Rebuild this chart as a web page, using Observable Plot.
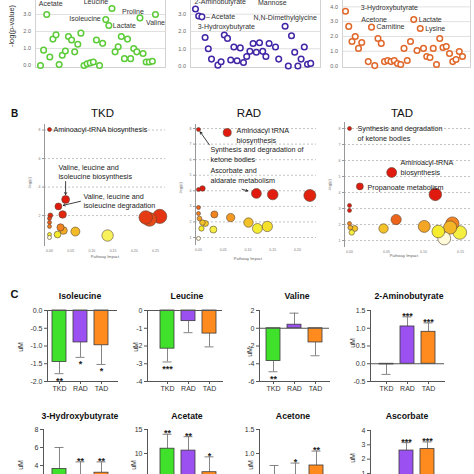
<!DOCTYPE html>
<html>
<head>
<meta charset="utf-8">
<script src="https://cdn.jsdelivr.net/npm/d3@7"></script>
<script src="https://cdn.jsdelivr.net/npm/@observablehq/plot@0.6"></script>
<style>
html,body{margin:0;padding:0;background:#fff;}
#fig{position:relative;width:474px;height:474px;overflow:hidden;background:#fff;font-family:"Liberation Sans",Arial,sans-serif;color:#111;}
.t{position:absolute;white-space:nowrap;transform:translate(-50%,-50%);line-height:1;}
.r{transform:translate(-50%,-50%) rotate(-90deg);}
</style>
</head>
<body>
<div id="fig"></div>
<script>
// ================= DATA =================
// Panel A: -log(p-value) of metabolites (in plotted order)
const tkdOrder = d3.range(38);
const tkdSig = [0.0,0.9,3.0,0.5,1.55,1.8,0.05,0.6,0.85,1.7,1.5,0.8,1.25,1.9,0.0,0.1,0.15,0.2,1.5,0.0,1.3,2.7,2.35,3.35,0.8,1.1,1.7,0.4,1.55,0.4,1.0,0.8,2.8,0.7,0.2,0.2,0.25,3.0];
const tkdNames = ["Acetate","Isoleucine","Lactate","Leucine","Proline","Valine"];
const tkdNameAt = [2,21,22,23,32,37];

const radOrder = [0,1,2,3,4,5,7,8,9,10,11,12,13,14,15,16,17,18,19,20,21,22,23,24,25,26,28,29,30,31,32,33,34,35,36];
const radSig = [3.3,2.9,2.85,1.65,1.0,0.4,0.05,0.25,1.8,1.6,0.35,1.1,0.3,1.05,0.2,0.55,0.85,1.3,0.8,1.35,0.85,0.55,1.3,4.3,1.1,0.4,2.3,0.0,1.75,0.8,0.0,0.4,1.1,0.1,0.15];
const radNames = ["2-Aminobutyrate","3-Hydroxybutyrate","Acetate","Mannose","N,N-Dimethylglycine"];
const radNameAt = [0,1,2,24,28];

const tadOrder = [0,1,2,3,4,5,7,8,9,10,11,12,13,14,15,16,17,18,19,20,21,22,23,24,25,26,27,28,29,30,31,32,33,34,35,36];
const tadSig = [3.7,2.68,1.66,2.0,1.19,1.59,0.3,2.63,0.03,1.86,1.53,0.3,0.37,0.3,0.37,0.17,0.1,1.19,0.37,1.66,3.15,1.05,2.54,1.19,0.64,0.58,1.19,0.1,1.86,1.25,1.32,0.85,0.3,0.44,0.98,0.64];
const tadNames = ["3-Hydroxybutyrate","Acetone","Carnitine","Lactate","Lysine"];
const tadNameAt = [1,3,8,21,23];

// Panel B: pathway impact vs -log(p)
const tkdImpact = [0.000,0.038,0.021,0.031,0.002,0.000,0.000,0.000,0.026,0.033,0.061,0.019,0.000,0.000,0.137,0.227,0.236,0.260];
const tkdLogP   = [8.04,3.13,2.64,2.08,2.01,1.80,1.52,1.24,1.17,0.95,0.88,0.67,0.67,0.46,0.60,1.87,1.73,1.94];
const tkdPathways = ["Aminoacyl-tRNA biosynthesis","Valine, leucine and\nisoleucine biosynthesis","Valine, leucine and\nisoleucine degradation"];

const radImpact = [0.000,0.058,0.000,0.008,0.117,0.150,0.225,0.000,0.000,0.032,0.065,0.002,0.008,0.014,0.006,0.030,0.101,0.119,0.139,0.000];
const radLogP   = [7.94,7.74,4.08,4.15,3.83,3.76,3.70,2.93,2.54,2.48,2.28,2.22,1.96,1.90,1.58,1.51,1.96,1.58,1.71,0.94];
const radPathways = ["Aminoacyl tRNA\nbiosynthesis","Synthesis and degradation of\nketone bodies","Ascorbate and\naldarate metabolism"];

const tadImpact = [0.000,0.057,0.014,0.116,0.000,0.000,0.000,0.063,0.101,0.139,0.136,0.001,0.007,0.003,0.046,0.120,0.149,0.128];
const tadLogP   = [8.00,5.25,4.38,3.88,3.19,2.88,2.06,2.31,1.88,2.06,1.81,1.81,1.75,1.50,1.75,1.56,1.50,1.13];
const tadPathways = ["Synthesis and degradation\nof ketone bodies","Aminoacyl-tRNA\nbiosynthesis","Propanoate metabolism"];

// Panel C: concentration changes (uM)
const groups = ["TKD","RAD","TAD"];
const isoleucineMean = [-1.45,-0.9,-0.98], isoleucineSD = [0.33,0.42,0.54], isoleucineStars = ["**","*","*"];
const leucineMean = [-2.15,-0.6,-1.3], leucineSD = [0.75,0.65,0.75], leucineStars = ["***","",""];
const valineMean = [-3.7,0.4,-1.6], valineSD = [1.2,1.3,1.5], valineStars = ["**","",""];
const aminobutyrateMean = [-0.02,1.05,0.9], aminobutyrateSD = [0.28,0.27,0.25], aminobutyrateStars = ["","***","***"];
const hydroxybutyrateMean = [3.6,2.6,3.2], hydroxybutyrateSD = [2.4,1.8,1.2], hydroxybutyrateStars = ["","**","**"];
const acetateMean = [11,10.6,6.1], acetateSD = [3,2.9,3.2], acetateStars = ["**","**","*"];
const acetoneMean = [0.35,0.45,0.75], acetoneSD = [0.4,0.35,0.3], acetoneStars = ["","*","**"];
const ascorbateMean = [0.02,2.6,2.7], ascorbateSD = [0.05,0.55,0.5], ascorbateStars = ["","***","***"];

// ================= HELPERS =================
const FONT = '"Liberation Sans", Arial, sans-serif';
const fig = document.getElementById("fig");
const groupColors = ["#3fe12b","#9b50f2","#ff8b1f"];
const heatColors = ["#fffbe6","#f4ee2c","#f28a22","#e01a0e"];
const minus = f => d => f(d).replace("\u2212","-");

function place(node, left, top) {
  node.style.position = "absolute";
  node.style.left = left + "px";
  node.style.top = top + "px";
  fig.appendChild(node);
}
function txt(s, x, y, css, rot) {
  const d = document.createElement("div");
  d.className = "t" + (rot ? " r" : "");
  d.textContent = s;
  d.style.cssText += `left:${x}px;top:${y}px;` + (css || "");
  fig.appendChild(d);
}

// ================= PANEL A =================
function scatterA(o) {
  const pts = o.order.map((i, k) => ({i, v: o.sig[k]}));
  const labelMarks = o.names.map((nm, j) => {
    const d = pts.find(p => p.i === o.nameAt[j]);
    const p = o.place[nm];
    return Plot.text([d], {x: "i", y: "v", text: () => p.t || nm, dx: p.dx, dy: p.dy,
      textAnchor: p.a || "middle", fontSize: 7, fill: "#333"});
  });
  const svg = Plot.plot({
    width: o.width, height: o.height,
    marginLeft: o.mL, marginRight: o.mR, marginTop: 0, marginBottom: 0,
    style: {background: "transparent", overflow: "visible", fontFamily: FONT},
    x: {domain: o.xDom, axis: null},
    y: {domain: o.yDom, axis: null},
    marks: [
      Plot.gridY([1,2,3,4,5], {stroke: "#e0e0e0", strokeOpacity: 1}),
      Plot.frame({stroke: "#d2d2d2"}),
      Plot.axisY([0,1,2,3,4,5], {tickFormat: d3.format(".1f"), tickSize: 0, tickPadding: 4.5, fontSize: 5.5, fill: "#666", label: null}),
      Plot.dot(pts, {x: "i", y: "v", r: 2.8, stroke: o.color, strokeWidth: 1.5, fill: "white"}),
      ...labelMarks
    ]
  });
  place(svg, o.left, o.top);
}

scatterA({order: tkdOrder, sig: tkdSig, names: tkdNames, nameAt: tkdNameAt, color: "#5ccb38",
  left: 0, top: -37, width: 170, height: 104, mL: 35, mR: 5,
  xDom: [-1.609, 40.22], yDom: [-0.12, 6],
  place: {Acetate: {dx: 4, dy: -11}, Isoleucine: {dx: -5, dy: -1, a: "end"}, Lactate: {dx: 4, dy: 0.5, a: "start"},
          Leucine: {dx: -16, dy: -7}, Proline: {dx: -7, dy: -6.5}, Valine: {dx: 0, dy: 8}}});

scatterA({order: radOrder, sig: radSig, names: radNames, nameAt: radNameAt, color: "#4226a6",
  left: 150, top: -38, width: 175, height: 105, mL: 40, mR: 5,
  xDom: [-1.5625, 39.06], yDom: [-0.087, 6],
  place: {"2-Aminobutyrate": {dx: -1, dy: -7, a: "start"}, "3-Hydroxybutyrate": {dx: -1, dy: 11, a: "start"},
          Acetate: {dx: 4, dy: 0, a: "start", t: "\u2013 Acetate"}, Mannose: {dx: 0, dy: 11},
          "N,N-Dimethylglycine": {dx: 0, dy: -9}}});

scatterA({order: tadOrder, sig: tadSig, names: tadNames, nameAt: tadNameAt, color: "#e0672a",
  left: 300, top: -38, width: 174, height: 105, mL: 42, mR: 4,
  xDom: [-0.923, 38.46], yDom: [-0.1, 7],
  place: {"3-Hydroxybutyrate": {dx: 12, dy: -19, a: "start"}, Acetone: {dx: 6, dy: -16.5, a: "start"},
          Carnitine: {dx: 5, dy: 0, a: "start"}, Lactate: {dx: 5, dy: 0, a: "start"}, Lysine: {dx: 5, dy: 0, a: "start"}}});

txt("-log(p-value)", 12, 26, "font-size:7.5px;color:#333;", true);

// ================= PANEL B =================
function pathway(o) {
  const pts = o.impact.map((x, k) => ({x, y: o.logp[k]}));
  const ann = o.ann.map((a, j) => ({t: o.names[j], lx: a.lx, ly: a.ly}));
  const arrowMarks = o.ann.filter(a => a.ax !== undefined).map(a => Plot.arrow(
    [{x1: a.ax, y1: a.ay, x2: pts[a.k].x, y2: pts[a.k].y}],
    {x1: "x1", y1: "y1", x2: "x2", y2: "y2", stroke: "#111", strokeWidth: 0.8, headLength: 4, insetEnd: a.inset}));
  const svg = Plot.plot({
    width: o.width, height: o.height,
    marginLeft: o.mL, marginRight: o.mR, marginTop: o.mT, marginBottom: o.mB,
    style: {background: "transparent", overflow: "visible", fontFamily: FONT},
    x: {domain: o.xDom, axis: null},
    y: {domain: o.yDom, axis: null},
    r: {type: "sqrt", domain: [0, o.rDom], range: [2, o.rMax]},
    color: {type: "linear", domain: o.cDom, range: heatColors, clamp: true},
    marks: [
      Plot.gridY(o.yTicks, {stroke: "#c4c4c4", strokeOpacity: 1, strokeDasharray: "2,2"}),
      Plot.frame({anchor: "left", stroke: "#999"}),
      Plot.axisY(o.yTicks, {tickSize: 2, tickPadding: 2, fontSize: 3.5, fill: "#777", stroke: "#999", label: null}),
      Plot.axisX(o.xTicks, {tickSize: 0, tickPadding: 4, fontSize: 3.5, fill: "#777", tickFormat: d3.format(".2f"), label: null}),
      Plot.dot(pts, {x: "x", y: "y", r: "x", fill: "y", stroke: "#5a4636", strokeWidth: 0.6}),
      ...arrowMarks,
      Plot.text(ann, {x: "lx", y: "ly", text: "t", textAnchor: "start", lineAnchor: "top", lineHeight: 1.3, fontSize: 7.2, fill: "#222"})
    ]
  });
  place(svg, o.left, o.top);
}

pathway({impact: tkdImpact, logp: tkdLogP, names: tkdPathways,
  ann: [{k: 0, lx: 0.0094, ly: 8.32},
        {k: 1, lx: 0.0212, ly: 5.66, ax: 0.038, ay: 4.39, inset: 5},
        {k: 2, lx: 0.080, ly: 3.62, ax: 0.073, ay: 3.0, inset: 5}],
  left: 0, top: 110, width: 170, height: 155, mL: 44, mR: 5, mT: 14, mB: 20,
  xDom: [-0.0118, 0.2736], yDom: [-0.1, 8.39], yTicks: [2,4,6,8], xTicks: [0,0.05,0.1,0.15,0.2,0.25],
  rDom: 0.25, rMax: 7, cDom: [0.45, 0.65, 1.1, 2.2]});

pathway({impact: radImpact, logp: radLogP, names: radPathways,
  ann: [{k: 1, lx: 0.077, ly: 8.13},
        {k: 0, lx: 0.024, ly: 6.91, ax: 0.022, ay: 6.95, inset: 3},
        {k: 4, lx: 0.024, ly: 5.56, ax: 0.088, ay: 4.1, inset: 9}],
  left: 150, top: 110, width: 171, height: 155, mL: 45, mR: 5, mT: 14, mB: 21,
  xDom: [-0.00606, 0.2384], yDom: [0.55, 8.26], yTicks: [1,2,3,4,5,6,7,8], xTicks: [0,0.05,0.1,0.15,0.2],
  rDom: 0.22, rMax: 6, cDom: [0.95, 1.6, 2.4, 3.8]});

pathway({impact: tadImpact, logp: tadLogP, names: tadPathways,
  ann: [{k: 0, lx: 0.0108, ly: 8.25},
        {k: 1, lx: 0.069, ly: 6.125},
        {k: 2, lx: 0.0243, ly: 4.59}],
  left: 300, top: 110, width: 174, height: 157, mL: 44, mR: 2, mT: 12, mB: 21,
  xDom: [-0.00676, 0.1662], yDom: [0.625, 8.375], yTicks: [1,2,3,4,5,6,7,8], xTicks: [0,0.05,0.1,0.15],
  rDom: 0.16, rMax: 7, cDom: [1.1, 1.55, 2.0, 2.9]});

txt("B", 14.5, 114, "font-size:10px;font-weight:bold;");
txt("TKD", 102.5, 114, "font-size:11.5px;");
txt("RAD", 249, 114, "font-size:11.5px;");
txt("TAD", 402, 114, "font-size:11.5px;");
[[105,257],[248,259],[404,256]].forEach(([x,y]) => txt("Pathway Impact", x, y, "font-size:4px;color:#666;"));
[[30,183],[181,188],[330,185]].forEach(([x,y]) => txt("-log(p)", x, y, "font-size:4px;color:#666;", true));

// ================= PANEL C =================
function bars(o) {
  const data = groups.map((g, k) => {
    const v = o.mean[k];
    return {g, v, e: v + (v < 0 ? -1 : 1) * o.sd[k], s: o.stars[k]};
  });
  const mL = 40, mR = 4, mT = 10, mB = 20;
  const bandStart = o.firstC - 7.1, rangeW = 56.8;
  const svg = Plot.plot({
    width: mL + (o.right - o.axis) + mR, height: mT + o.plotH + mB,
    marginLeft: mL, marginRight: mR, marginTop: mT, marginBottom: mB,
    style: {background: "transparent", overflow: "visible", fontFamily: FONT},
    x: {domain: groups, paddingInner: 0.333, paddingOuter: 0,
        insetLeft: bandStart - o.axis, insetRight: o.right - (bandStart + rangeW), axis: null},
    y: {domain: o.yDom, axis: null},
    color: {domain: groups, range: groupColors},
    marks: [
      Plot.frame({anchor: "left", stroke: "#555"}),
      Plot.frame({anchor: "bottom", stroke: "#555"}),
      Plot.axisY(o.ticks, {tickFormat: minus(o.fmt), tickSize: 3, tickPadding: 2, fontSize: 7, fill: "#333", stroke: "#555", label: null}),
      Plot.axisX({tickSize: 3, tickPadding: 2, fontSize: 7, fill: "#333", stroke: "#555", label: null}),
      Plot.ruleX(data, {x: "g", y1: "v", y2: "e", stroke: "#777", strokeWidth: 0.9}),
      Plot.tickY(data, {x: "g", y: "e", stroke: "#777", strokeWidth: 0.9, insetLeft: 2.5, insetRight: 2.5}),
      Plot.barY(data, {x: "g", y: "v", fill: "g", stroke: "#3a3a3a", strokeWidth: 0.8}),
      Plot.ruleY([0], {stroke: "#555"}),
      Plot.text(data.filter(d => d.s && d.e < 0), {x: "g", y: "e", text: "s", dy: 7, fontSize: 9, fontWeight: "bold", fill: "#222"}),
      Plot.text(data.filter(d => d.s && d.e >= 0), {x: "g", y: "e", text: "s", dy: -1, fontSize: 9, fontWeight: "bold", fill: "#222"})
    ]
  });
  place(svg, o.axis - mL, o.top);
  txt(o.title, o.tx, o.ty, "font-size:8.7px;font-weight:bold;");
  txt("uM", o.ux, o.uy, "font-size:7px;color:#333;", true);
}

const f1 = d3.format(".1f"), f0 = d3.format("d");
// row 1
bars({title: "Isoleucine", mean: isoleucineMean, sd: isoleucineSD, stars: isoleucineStars,
  axis: 47, firstC: 59, right: 117, top: 300, plotH: 71, yDom: [-2, 0], ticks: [0,-0.5,-1,-1.5,-2], fmt: f1,
  tx: 80, ty: 295.5, ux: 20, uy: 347});
bars({title: "Leucine", mean: leucineMean, sd: leucineSD, stars: leucineStars,
  axis: 147, firstC: 166.3, right: 222, top: 300, plotH: 71, yDom: [-4, 0], ticks: [0,-1,-2,-3,-4], fmt: f0,
  tx: 187, ty: 295.5, ux: 135, uy: 347});
bars({title: "Valine", mean: valineMean, sd: valineSD, stars: valineStars,
  axis: 259, firstC: 273, right: 329, top: 300, plotH: 71, yDom: [-6, 2], ticks: [2,0,-2,-4,-6], fmt: f0,
  tx: 297, ty: 295.5, ux: 249, uy: 352});
bars({title: "2-Aminobutyrate", mean: aminobutyrateMean, sd: aminobutyrateSD, stars: aminobutyrateStars,
  axis: 370, firstC: 385.3, right: 444, top: 300, plotH: 71, yDom: [-0.5, 1.5], ticks: [1.5,1,0.5,0,-0.5], fmt: f1,
  tx: 409, ty: 295.5, ux: 352, uy: 343});
// row 2
bars({title: "3-Hydroxybutyrate", mean: hydroxybutyrateMean, sd: hydroxybutyrateSD, stars: hydroxybutyrateStars,
  axis: 43.3, firstC: 59, right: 117, top: 419, plotH: 72, yDom: [0, 8], ticks: [0,2,4,6,8], fmt: f0,
  tx: 80, ty: 416, ux: 20, uy: 465});
bars({title: "Acetate", mean: acetateMean, sd: acetateSD, stars: acetateStars,
  axis: 146.7, firstC: 166.3, right: 222, top: 419, plotH: 72, yDom: [0, 15], ticks: [0,5,10,15], fmt: f0,
  tx: 187, ty: 416, ux: 133, uy: 465});
bars({title: "Acetone", mean: acetoneMean, sd: acetoneSD, stars: acetoneStars,
  axis: 258.7, firstC: 273.5, right: 329, top: 419, plotH: 72, yDom: [0, 1.5], ticks: [0,0.5,1,1.5], fmt: f1,
  tx: 293, ty: 416, ux: 250, uy: 465});
bars({title: "Ascorbate", mean: ascorbateMean, sd: ascorbateSD, stars: ascorbateStars,
  axis: 370.3, firstC: 385.5, right: 444, top: 420, plotH: 57.3, yDom: [0, 4], ticks: [0,1,2,3,4], fmt: f0,
  tx: 407, ty: 416, ux: 352, uy: 458});

txt("C", 14.5, 293.5, "font-size:11px;font-weight:bold;");
</script>
</body>
</html>
